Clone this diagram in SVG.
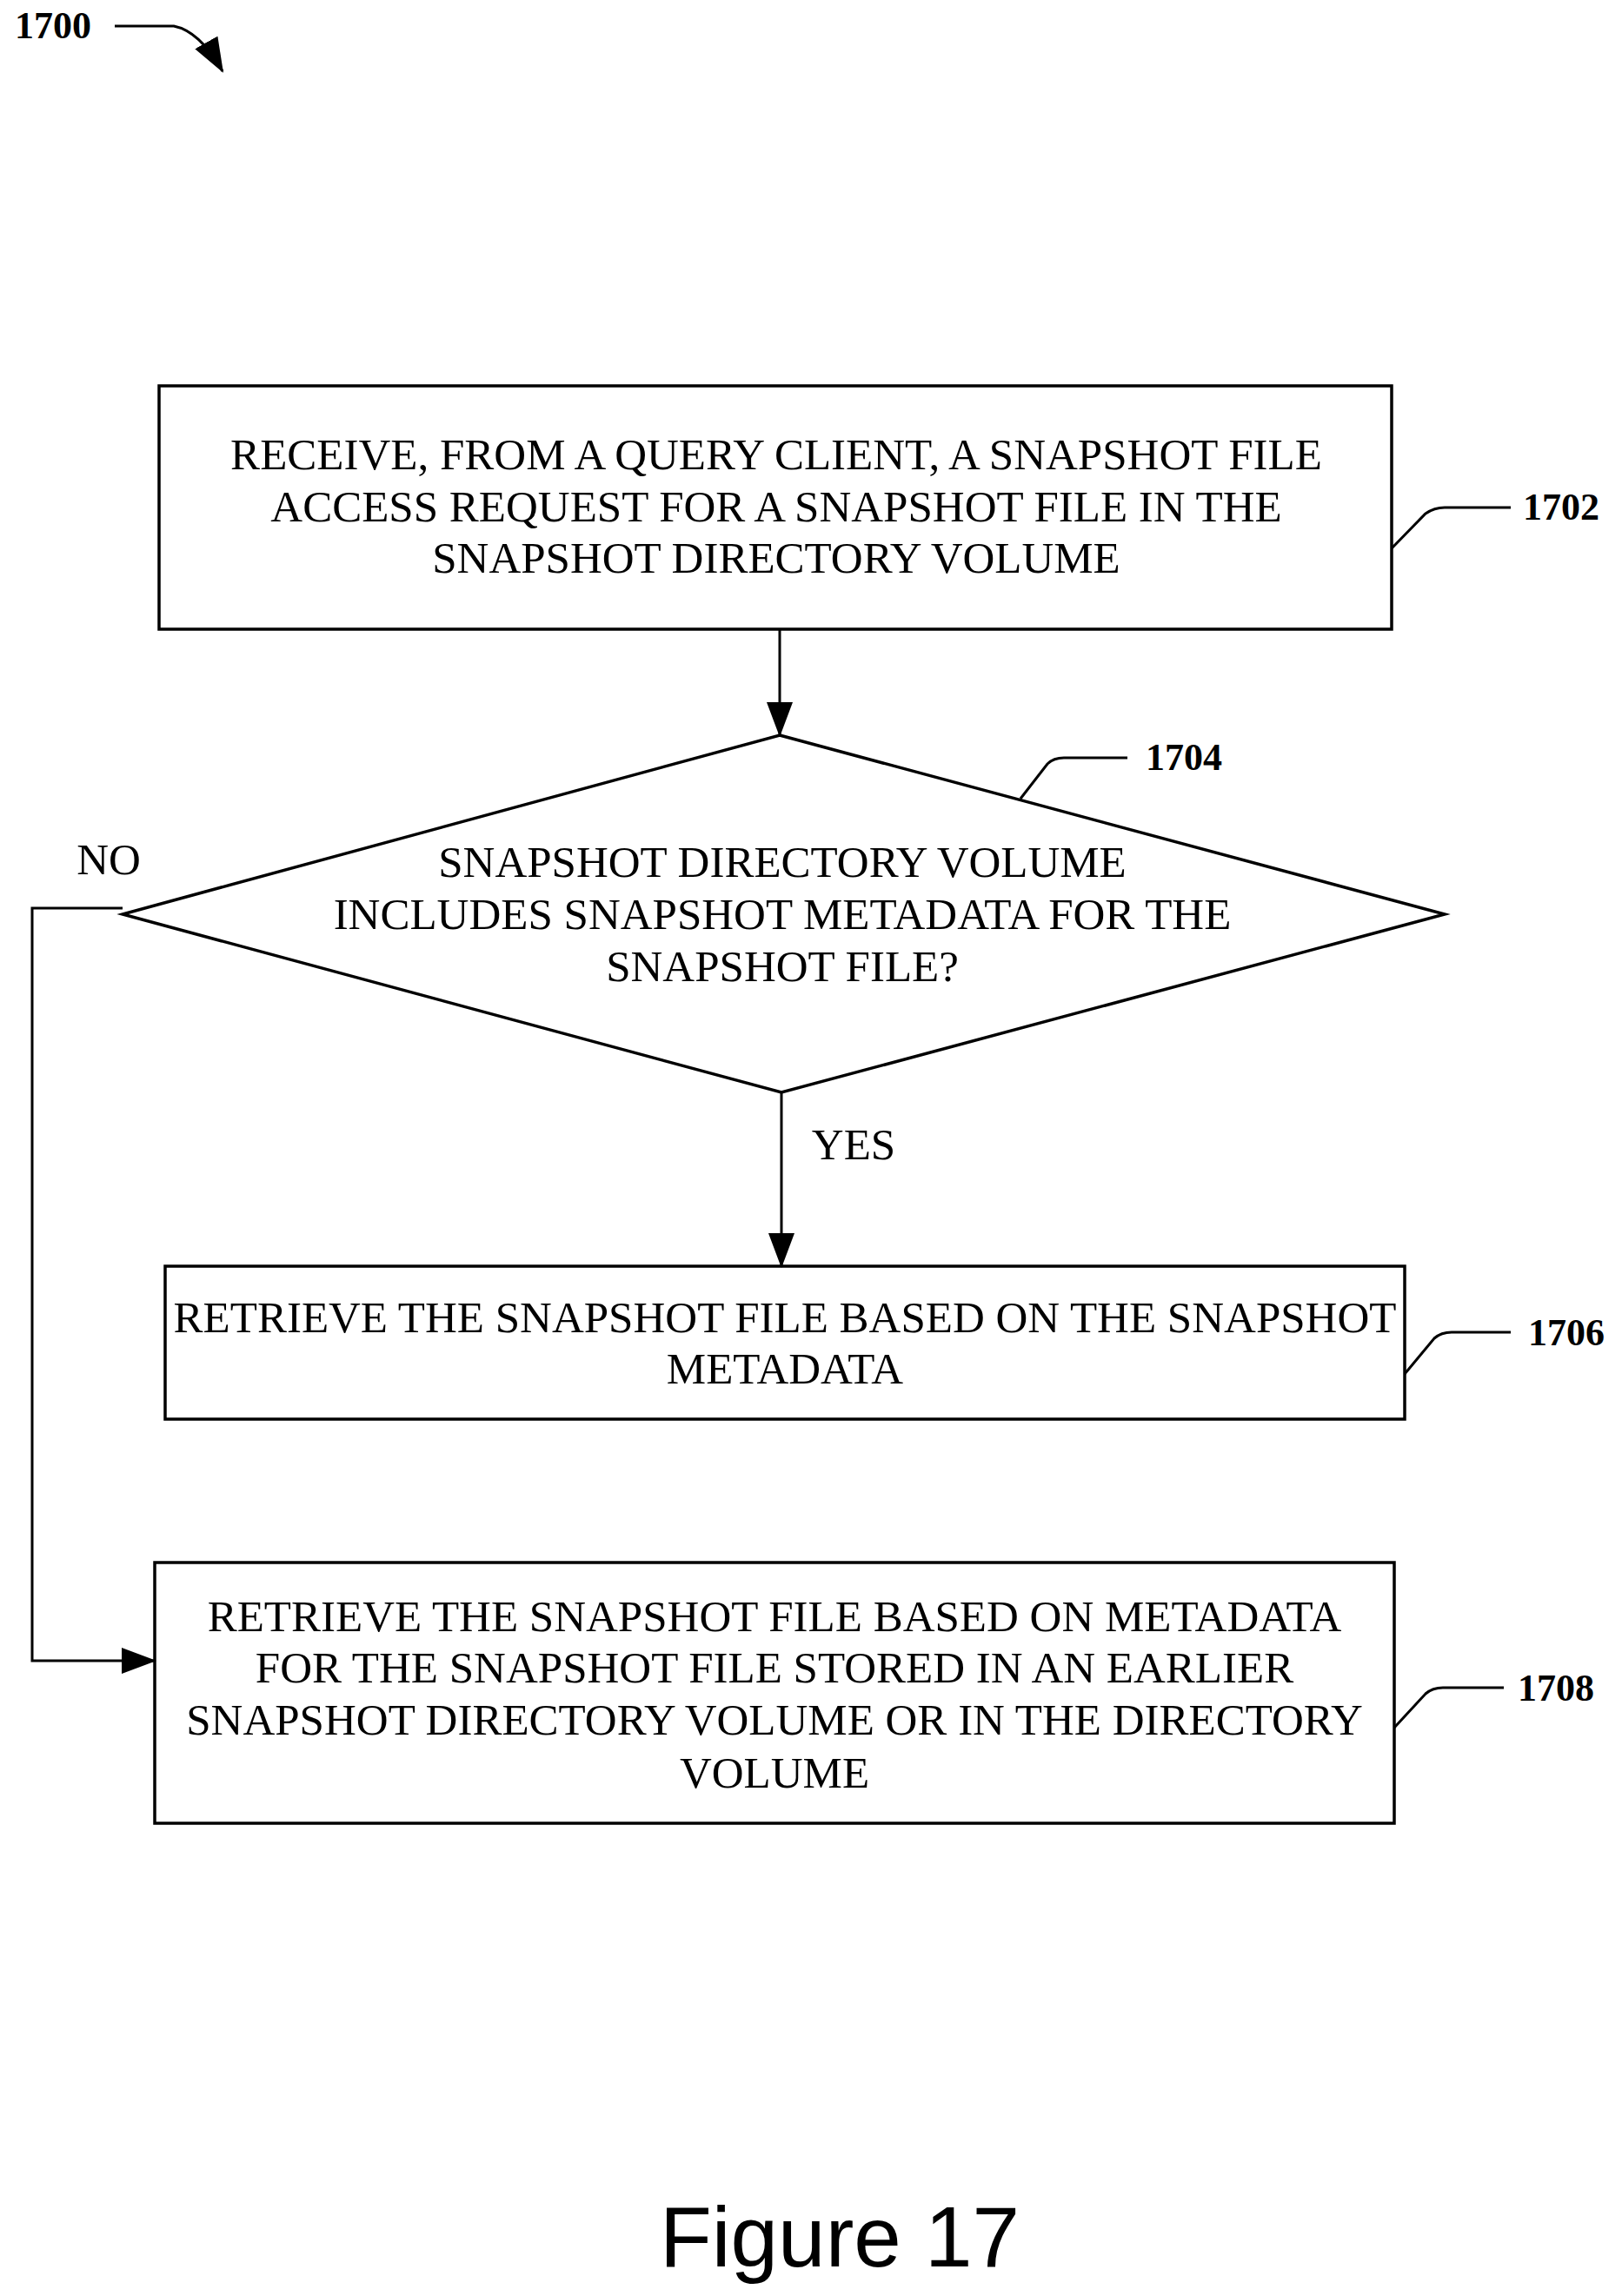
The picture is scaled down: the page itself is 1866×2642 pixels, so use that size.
<svg xmlns="http://www.w3.org/2000/svg" width="1866" height="2642" viewBox="0 0 1866 2642">
<style>
.b{fill:#fff;stroke:#000;stroke-width:3.5}
.t{font-family:"Liberation Serif",serif;font-size:51px;text-anchor:middle;fill:#000}
.l{font-family:"Liberation Serif",serif;font-size:44px;font-weight:bold;fill:#000}
.c{fill:none;stroke:#000;stroke-width:3}
</style>
<defs><marker id="a2" markerWidth="40" markerHeight="30" refX="38" refY="15" orient="auto" markerUnits="userSpaceOnUse"><path d="M0,0L40,15L0,30z" fill="#000"/></marker></defs>
<rect width="1866" height="2642" fill="#fff"/>
<g id="ref1700"><text class="l" x="17" y="44">1700</text><path class="c" d="M132,30H200Q230,36 256,82" marker-end="url(#a2)"/></g>
<g id="n1702"><rect class="b" x="183" y="444" width="1418" height="280"/>
<text class="t" x="893" y="540">RECEIVE, FROM A QUERY CLIENT, A SNAPSHOT FILE</text>
<text class="t" x="893" y="600">ACCESS REQUEST FOR A SNAPSHOT FILE IN THE</text>
<text class="t" x="893" y="659">SNAPSHOT DIRECTORY VOLUME</text>
<path class="c" d="M1601,631L1640,591Q1650,584 1662,584H1738"/><text class="l" x="1752" y="598">1702</text></g>
<g id="n1704"><polygon class="b" points="897,846 1662,1052 899,1257 141,1052"/>
<text class="t" x="900" y="1009">SNAPSHOT DIRECTORY VOLUME</text>
<text class="t" x="900" y="1069">INCLUDES SNAPSHOT METADATA FOR THE</text>
<text class="t" x="900" y="1129">SNAPSHOT FILE?</text>
<path class="c" d="M1174,919L1205,879Q1212,872 1224,872H1297"/><text class="l" x="1318" y="886">1704</text></g>
<g id="n1706"><rect class="b" x="190" y="1457" width="1426" height="176"/>
<text class="t" x="903" y="1533" font-size="50">RETRIEVE THE SNAPSHOT FILE BASED ON THE SNAPSHOT</text>
<text class="t" x="903" y="1592">METADATA</text>
<path class="c" d="M1616,1581L1650,1540Q1658,1533 1670,1533H1738"/><text class="l" x="1758" y="1548">1706</text></g>
<g id="n1708"><rect class="b" x="178" y="1798" width="1426" height="300"/>
<text class="t" x="891" y="1877">RETRIEVE THE SNAPSHOT FILE BASED ON METADATA</text>
<text class="t" x="891" y="1936">FOR THE SNAPSHOT FILE STORED IN AN EARLIER</text>
<text class="t" x="891" y="1996">SNAPSHOT DIRECTORY VOLUME OR IN THE DIRECTORY</text>
<text class="t" x="891" y="2057">VOLUME</text>
<path class="c" d="M1604,1988L1640,1949Q1648,1942 1660,1942H1730"/><text class="l" x="1746" y="1957">1708</text></g>
<g id="connectors">
<path class="c" d="M897,724V846" marker-end="url(#a2)"/>
<path class="c" d="M899,1257V1457" marker-end="url(#a2)"/>
<path class="c" d="M141,1045H37V1911H178" marker-end="url(#a2)"/>
<text class="t" x="125" y="1006">NO</text>
<text class="t" x="982" y="1334">YES</text>
</g>
<text x="966" y="2608" font-family="Liberation Sans,sans-serif" font-size="98" text-anchor="middle">Figure 17</text>
</svg>
